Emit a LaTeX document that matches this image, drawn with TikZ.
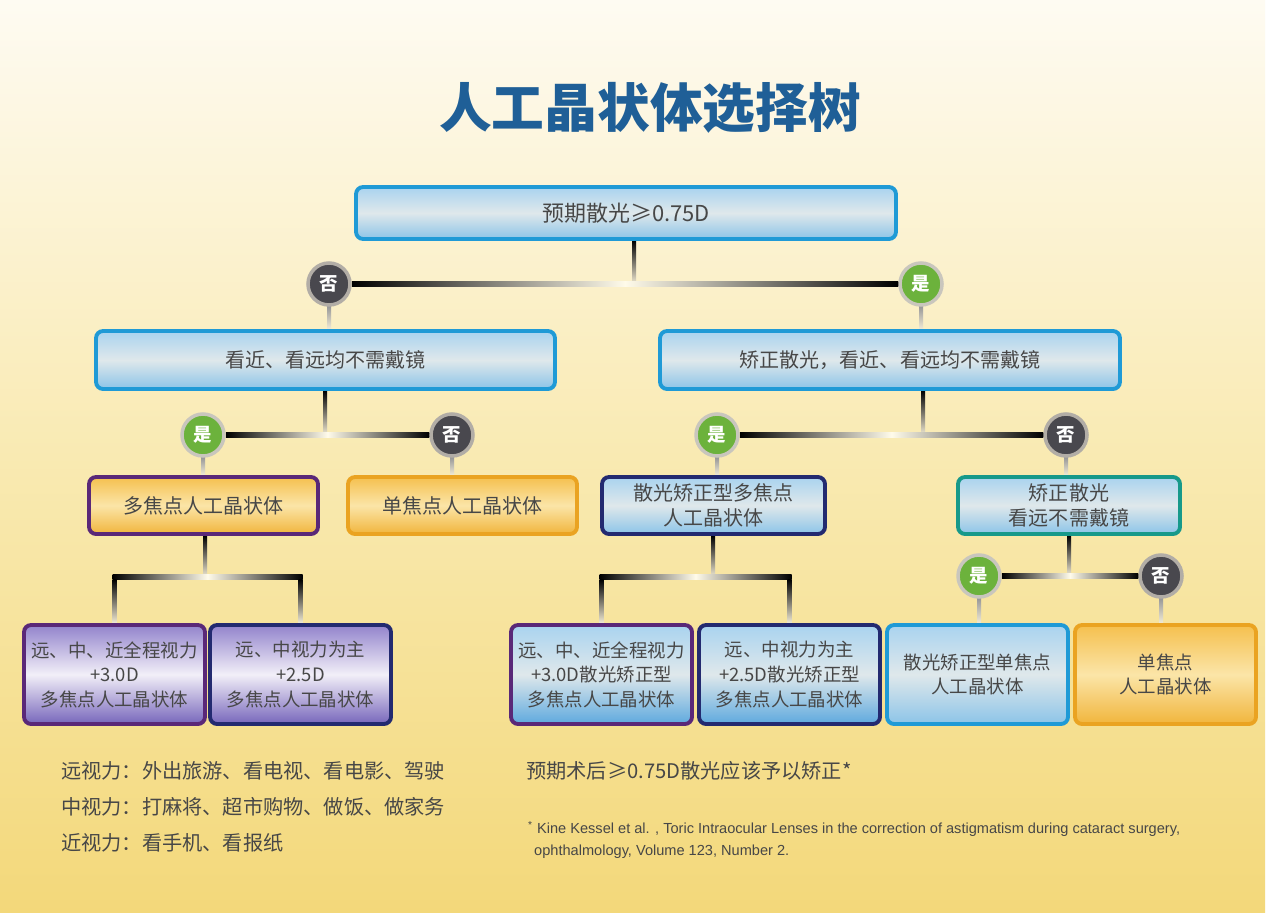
\documentclass[tikz,border=0pt]{standalone}
\usepackage{fontspec}
\setmainfont{Noto Sans CJK SC}
\newfontfamily\latinfont{Liberation Sans}
\usepackage{xcolor}
\usetikzlibrary{calc}
\definecolor{boxtext}{HTML}{474747}
\definecolor{titleblue}{HTML}{1F5F97}
\definecolor{skyline}{HTML}{1F9AD6}
\definecolor{bluetop}{HTML}{A9D3EF}
\definecolor{bluemid}{HTML}{DFE8EB}
\definecolor{bluebot}{HTML}{8CC4E8}
\definecolor{orangeline}{HTML}{EAA321}
\definecolor{orangetop}{HTML}{F5C04E}
\definecolor{orangemid}{HTML}{FBE5A8}
\definecolor{orangebot}{HTML}{F1B53C}
\definecolor{purpleline}{HTML}{5A2878}
\definecolor{navyline}{HTML}{232A70}
\definecolor{tealline}{HTML}{17998A}
\definecolor{lavtop}{HTML}{9283CC}
\definecolor{lavmid}{HTML}{F2EFF8}
\definecolor{lavbot}{HTML}{7766BB}
\definecolor{deepbot}{HTML}{5EA9DE}
\definecolor{yesgreen}{HTML}{6CB23C}
\definecolor{yesring}{HTML}{C9C6BD}
\definecolor{nogray}{HTML}{49484E}
\definecolor{noring}{HTML}{B2ADA6}
\definecolor{bgtop}{HTML}{FEFBF2}
\definecolor{bgmid}{HTML}{F9EAB2}
\definecolor{bgbot}{HTML}{F3D87A}
\definecolor{barmid}{HTML}{FFFBEA}
\definecolor{stemend}{HTML}{F2EBD4}
\pgfdeclarelayer{bg}
\pgfdeclarelayer{back}
\pgfsetlayers{bg,back,main}

\begin{document}
\begin{tikzpicture}[x=0.02cm, y=-0.02cm,
  font=\fontsize{11.4}{14.2}\selectfont, text=boxtext,
  box/.style={line width=2.2pt, rounded corners=4pt, align=center, inner sep=2pt},
  bluebox/.style={box, draw=skyline, top color=bluetop, bottom color=bluebot, middle color=bluemid},
  orangebox/.style={box, draw=orangeline, top color=orangetop, bottom color=orangebot, middle color=orangemid},
  lavbox/.style={box, top color=lavtop, bottom color=lavbot, middle color=lavmid},
  deepbox/.style={box, top color=bluetop, bottom color=deepbot, middle color=bluemid},
  isyes/.style={circle, fill=yesgreen, draw=yesring, line width=2pt, minimum size=0.84cm, inner sep=0pt, text=white, font=\fontsize{10.5}{12}\selectfont\bfseries},
  isno/.style={isyes, fill=nogray, draw=noring},
  hbar/.style={left color=black, right color=black, middle color=barmid},
  vstem/.style={top color=black, bottom color=stemend},
  vgray/.style={top color=gray!80, bottom color=stemend},
  note/.style={anchor=west, align=left, font=\fontsize{11.5}{20.6}\selectfont}]
% background
\useasboundingbox (0,0) rectangle (1280,922);
\begin{pgfonlayer}{bg}
\fill[white] (0,0) rectangle (1280,922);
\shade[top color=bgtop, bottom color=bgbot, middle color=bgmid] (0,0) rectangle (1265,912);
\end{pgfonlayer}
\node[font=\fontsize{30}{32}\selectfont\bfseries, text=titleblue] (title) at (650,108) {人工晶状体选择树};
% first question
\node[bluebox, minimum width=10.8cm, minimum height=1.04cm, font=\fontsize{12.5}{14}\selectfont] (top) at (626,213) {预期散光≥0.75D};
\coordinate (j1) at (634,284);
\node[isno] (no1) at (329,284) {否};
\node[isyes] (yes1) at (921,284) {是};
% second level
\node[bluebox, minimum width=9.18cm, minimum height=1.16cm] (farL) at (325.5,360) {看近、看远均不需戴镜};
\node[bluebox, minimum width=9.2cm, minimum height=1.16cm] (farR) at (890,360) {矫正散光，看近、看远均不需戴镜};
\coordinate (j2) at (325,435);
\coordinate (j3) at (923,435);
\node[isyes] (yes2) at (203,435) {是};
\node[isno] (no2) at (452,435) {否};
\node[isyes] (yes3) at (717,435) {是};
\node[isno] (no3) at (1066,435) {否};
% third level
\node[orangebox, draw=purpleline, minimum width=4.58cm, minimum height=1.14cm] (multi) at (203.5,505.5) {多焦点人工晶状体};
\node[orangebox, minimum width=4.58cm, minimum height=1.14cm] (mono) at (462.5,505.5) {单焦点人工晶状体};
\node[bluebox, draw=navyline, minimum width=4.46cm, minimum height=1.14cm] (toricmulti) at (713.5,505.5) {散光矫正型多焦点\\人工晶状体};
\node[bluebox, draw=tealline, minimum width=4.44cm, minimum height=1.14cm] (fixfar) at (1069,505.5) {矫正散光\\看远不需戴镜};
\coordinate (j4) at (205,577);
\coordinate (j5) at (713,577);
\coordinate (j6) at (1069,576);
\node[isyes] (yes4) at (979,576) {是};
\node[isno] (no4) at (1161,576) {否};
% lenses
\foreach \n/\x/\st/\ln/\txt in {
  A/114.5/lavbox/purpleline/{远、中、近全程视力\\+3.0D\\多焦点人工晶状体},
  B/300.5/lavbox/navyline/{远、中视力为主\\+2.5D\\多焦点人工晶状体},
  C/601.5/deepbox/purpleline/{远、中、近全程视力\\+3.0D散光矫正型\\多焦点人工晶状体},
  D/789.5/deepbox/navyline/{远、中视力为主\\+2.5D散光矫正型\\多焦点人工晶状体},
  E/977.5/bluebox/skyline/{散光矫正型单焦点\\人工晶状体},
  F/1165.5/orangebox/orangeline/{单焦点\\人工晶状体}}{
  \node[\st, draw=\ln, minimum width=3.62cm, minimum height=1.98cm, font=\fontsize{10.5}{14}\selectfont] (\n) at (\x,674.5) {\txt};
}
% connectors
\begin{pgfonlayer}{back}
\shade[vstem] ($(top.south -| j1)+(-2,0)$) rectangle ($(j1)+(2,0)$);
\shade[hbar] ($(no1.east)+(0,-2.5)$) rectangle ($(yes1.west)+(0,2.5)$);
\shade[vgray] ($(no1.south)+(-2,0)$) rectangle ($(no1.south |- farL.north)+(2,0)$);
\shade[vgray] ($(yes1.south)+(-2,0)$) rectangle ($(yes1.south |- farR.north)+(2,0)$);
\shade[vstem] ($(farL.south -| j2)+(-2,0)$) rectangle ($(j2)+(2,0)$);
\shade[hbar] ($(yes2.east)+(0,-2.5)$) rectangle ($(no2.west)+(0,2.5)$);
\shade[vstem] ($(farR.south -| j3)+(-2,0)$) rectangle ($(j3)+(2,0)$);
\shade[hbar] ($(yes3.east)+(0,-2.5)$) rectangle ($(no3.west)+(0,2.5)$);
\shade[vgray] ($(yes2.south)+(-2,0)$) rectangle ($(yes2.south |- multi.north)+(2,0)$);
\shade[vgray] ($(no2.south)+(-2,0)$) rectangle ($(no2.south |- mono.north)+(2,0)$);
\shade[vgray] ($(yes3.south)+(-2,0)$) rectangle ($(yes3.south |- toricmulti.north)+(2,0)$);
\shade[vgray] ($(no3.south)+(-2,0)$) rectangle ($(no3.south |- fixfar.north)+(2,0)$);
\shade[vstem] ($(multi.south -| j4)+(-2,0)$) rectangle ($(j4)+(2,0)$);
\shade[hbar] ($(A.north |- j4)+(-2,-2.5)$) rectangle ($(B.north |- j4)+(2,2.5)$);
\shade[vstem] ($(A.north |- j4)+(-2,2.5)$) rectangle ($(A.north)+(2,0)$);
\shade[vstem] ($(B.north |- j4)+(-2,2.5)$) rectangle ($(B.north)+(2,0)$);
\shade[vstem] ($(toricmulti.south -| j5)+(-2,0)$) rectangle ($(j5)+(2,0)$);
\shade[hbar] ($(C.north |- j5)+(-2,-2.5)$) rectangle ($(D.north |- j5)+(2,2.5)$);
\shade[vstem] ($(C.north |- j5)+(-2,2.5)$) rectangle ($(C.north)+(2,0)$);
\shade[vstem] ($(D.north |- j5)+(-2,2.5)$) rectangle ($(D.north)+(2,0)$);
\shade[vstem] ($(fixfar.south -| j6)+(-2,0)$) rectangle ($(j6)+(2,0)$);
\shade[hbar] ($(yes4.east)+(0,-2.5)$) rectangle ($(no4.west)+(0,2.5)$);
\shade[vgray] ($(yes4.south)+(-2,0)$) rectangle ($(yes4.south |- E.north)+(2,0)$);
\shade[vgray] ($(no4.south)+(-2,0)$) rectangle ($(no4.south |- F.north)+(2,0)$);
\end{pgfonlayer}
% notes
\node[note] (uses) at (55,807) {远视力：外出旅游、看电视、看电影、驾驶\\中视力：打麻将、超市购物、做饭、做家务\\近视力：看手机、看报纸};
\node[note] (advice) at (520,771) {预期术后≥0.75D散光应该予以矫正*};
\node[note, font=\latinfont\fontsize{8.3}{12}\selectfont] (ref) at (522,840) {\textsuperscript{*} Kine Kessel et al. , Toric Intraocular Lenses in the correction of astigmatism during cataract surgery,\\\hspace{1.2mm}ophthalmology, Volume 123, Number 2.};
\end{tikzpicture}
\end{document}
